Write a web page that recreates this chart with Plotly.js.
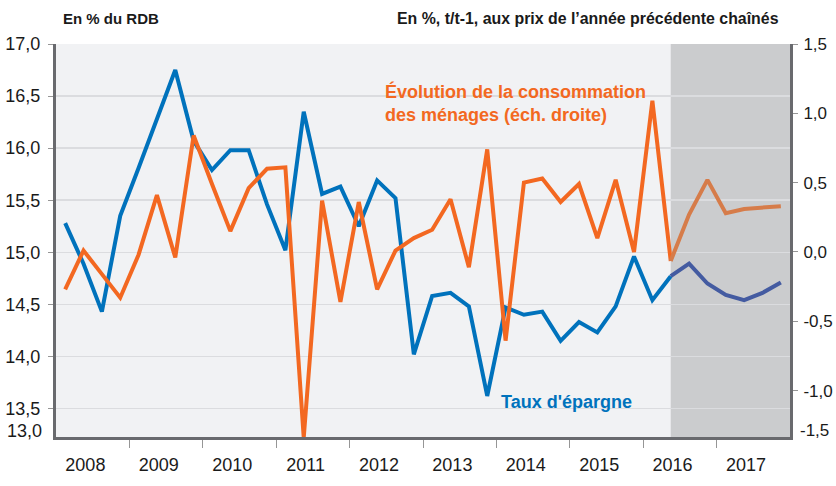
<!DOCTYPE html>
<html>
<head>
<meta charset="utf-8">
<script src="https://cdn.plot.ly/plotly-3.0.1.min.js"></script>
<style>html,body{margin:0;padding:0;background:#fff;}#chart{width:836px;height:486px;}</style>
</head>
<body>
<div id="chart"></div>
<script>
// ---- Data ----
const periods = [
  "2008T1","2008T2","2008T3","2008T4","2009T1","2009T2","2009T3","2009T4",
  "2010T1","2010T2","2010T3","2010T4","2011T1","2011T2","2011T3","2011T4",
  "2012T1","2012T2","2012T3","2012T4","2013T1","2013T2","2013T3","2013T4",
  "2014T1","2014T2","2014T3","2014T4","2015T1","2015T2","2015T3","2015T4",
  "2016T1","2016T2","2016T3","2016T4","2017T1","2017T2","2017T3","2017T4"
];
// Taux d'épargne (% du RDB), left axis
const tauxEpargne = [
  15.28, 14.89, 14.43, 15.35, 15.81, 16.29, 16.75, 16.07,
  15.79, 15.98, 15.98, 15.46, 15.02, 16.35, 15.56, 15.63,
  15.25, 15.69, 15.52, 14.02, 14.58, 14.61, 14.48, 13.62,
  14.47, 14.40, 14.43, 14.15, 14.33, 14.23, 14.48, 14.96,
  14.54, 14.77, 14.89, 14.70, 14.59, 14.54, 14.61, 14.71
];
// Évolution de la consommation des ménages (% t/t-1), right axis
const consommation = [
  -0.27, 0.01, -0.16, -0.33, -0.02, 0.41, -0.04, 0.84,
  0.49, 0.15, 0.46, 0.60, 0.61, -1.34, 0.37, -0.36,
  0.36, -0.27, 0.01, 0.10, 0.16, 0.38, -0.11, 0.74,
  -0.64, 0.50, 0.53, 0.36, 0.49, 0.10, 0.52, 0.00,
  1.09, -0.065, 0.27, 0.52, 0.28, 0.31, 0.32, 0.33
];
const lastObserved = "2016T2";   // forecast starts after this quarter
const yearLabels = ["2008","2009","2010","2011","2012","2013","2014","2015","2016","2017"];
const leftTicks = [13.5, 14.0, 14.5, 15.0, 15.5, 16.0, 16.5, 17.0];
const leftBottomLabel = "13,0";
const rightTicks = [-1.0, -0.5, 0.0, 0.5, 1.0, 1.5];
const rightBottomLabel = "-1,5";
const leftHeader = "En % du RDB";
const rightHeader = "En %, t/t-1, aux prix de l\u2019année précédente chaînés";
const consoLabel = "Évolution de la consommation<br>des ménages (éch. droite)";
const epargneLabel = "Taux d'épargne";

// ---- Build ----
const xq = periods.map(p => {
  const y = parseInt(p.slice(0, 4), 10), q = parseInt(p.slice(5), 10);
  return y + (q - 0.5) / 4;
});
const split = periods.indexOf(lastObserved);
const fmt = v => v.toFixed(1).replace('.', ',');

const BLUE = 'rgb(0,114,188)', BLUE_F = 'rgb(68,91,161)';
const ORANGE = 'rgb(243,104,33)', ORANGE_F = 'rgb(214,124,74)';
const FONT = 'Liberation Sans, Arial, sans-serif';

const traces = [
  {x: xq.slice(0, split + 1), y: tauxEpargne.slice(0, split + 1), mode: 'lines',
   line: {color: BLUE, width: 4}, yaxis: 'y', hoverinfo: 'skip'},
  {x: xq.slice(split), y: tauxEpargne.slice(split), mode: 'lines',
   line: {color: BLUE_F, width: 4}, yaxis: 'y', hoverinfo: 'skip'},
  {x: xq.slice(0, split + 1), y: consommation.slice(0, split + 1), mode: 'lines',
   line: {color: ORANGE, width: 4}, yaxis: 'y2', hoverinfo: 'skip'},
  {x: xq.slice(split), y: consommation.slice(split), mode: 'lines',
   line: {color: ORANGE_F, width: 4}, yaxis: 'y2', hoverinfo: 'skip'}
];

const firstYear = parseInt(yearLabels[0], 10);
const endYear = parseInt(yearLabels[yearLabels.length - 1], 10) + 1;
// labels sit slightly left of the middle of each year, as in the reference
const yearMid = yearLabels.map(y => parseInt(y, 10) + 0.4);
const yearBounds = yearLabels.slice(1).map(y => parseInt(y, 10));

const layout = {
  width: 836, height: 486,
  margin: {l: 56, r: 46, t: 44, b: 49, pad: 0},
  paper_bgcolor: '#ffffff',
  plot_bgcolor: 'rgb(241,242,244)',
  showlegend: false,
  font: {family: FONT, size: 18, color: '#1a1a1a'},
  xaxis: {
    range: [firstYear, endYear],
    tickmode: 'array', tickvals: yearMid, ticktext: yearLabels,
    ticks: 'outside', ticklen: 9, tickcolor: 'rgba(0,0,0,0)',
    showgrid: false, zeroline: false,
    showline: true, linecolor: 'rgb(105,106,110)', linewidth: 3,
    minor: {tickmode: 'array', tickvals: yearBounds, ticks: 'outside', ticklen: 8,
            tickcolor: 'rgb(150,150,150)', tickwidth: 1, showgrid: false},
    tickfont: {family: FONT, size: 18, color: '#1a1a1a'},
    fixedrange: true
  },
  yaxis: {
    range: [13.226, 17.0],
    tickmode: 'array', tickvals: leftTicks, ticktext: leftTicks.map(fmt),
    ticks: 'outside', ticklen: 5, tickcolor: 'rgb(150,150,150)', tickwidth: 1,
    showgrid: true, gridcolor: 'rgb(219,220,223)', gridwidth: 1.5,
    zeroline: false,
    showline: true, linecolor: 'rgb(105,106,110)', linewidth: 3,
    tickfont: {family: FONT, size: 18, color: '#1a1a1a'},
    ticklabelstandoff: 4,
    fixedrange: true
  },
  yaxis2: {
    overlaying: 'y', side: 'right',
    range: [-1.335, 1.5],
    tickmode: 'array', tickvals: rightTicks, ticktext: rightTicks.map(fmt),
    ticks: 'outside', ticklen: 5, tickcolor: 'rgb(150,150,150)', tickwidth: 1,
    showgrid: false, zeroline: false,
    showline: true, linecolor: 'rgb(105,106,110)', linewidth: 3,
    tickfont: {family: FONT, size: 17, color: '#1a1a1a'},
    ticklabelstandoff: 2,
    fixedrange: true
  },
  shapes: [
    {type: 'rect', xref: 'x', yref: 'paper', x0: xq[split], x1: endYear, y0: 0, y1: 1,
     fillcolor: 'rgb(203,204,206)', line: {width: 0}, layer: 'below'}
  ],
  annotations: [
    {xref: 'paper', yref: 'paper', x: -0.0163, y: 0.0153, xanchor: 'right', yanchor: 'middle',
     text: leftBottomLabel, showarrow: false, font: {family: FONT, size: 18, color: '#1a1a1a'}},
    {xref: 'paper', yref: 'paper', x: 1.0112, y: 0.0153, xanchor: 'left', yanchor: 'middle',
     text: rightBottomLabel, showarrow: false, font: {family: FONT, size: 17, color: '#1a1a1a'}},
    {xref: 'paper', yref: 'paper', x: 0.0068, y: 1.066, xanchor: 'left', yanchor: 'middle',
     text: '<b>' + leftHeader + '</b>', showarrow: false, font: {family: FONT, size: 15, color: '#1a1a1a'}},
    {xref: 'paper', yref: 'paper', x: 0.9877, y: 1.066, xanchor: 'right', yanchor: 'middle',
     text: '<b>' + rightHeader + '</b>', showarrow: false, font: {family: FONT, size: 15.9, color: '#1a1a1a'}},
    {xref: 'paper', yref: 'paper', x: 0.4455, y: 0.851, xanchor: 'left', yanchor: 'middle', align: 'left',
     text: '<b>' + consoLabel + '</b>', showarrow: false, font: {family: FONT, size: 18, color: ORANGE}},
    {xref: 'paper', yref: 'paper', x: 0.6035, y: 0.089, xanchor: 'left', yanchor: 'middle',
     text: '<b>' + epargneLabel + '</b>', showarrow: false, font: {family: FONT, size: 18, color: BLUE}}
  ]
};

Plotly.newPlot('chart', traces, layout, {displayModeBar: false, staticPlot: true});
</script>
</body>
</html>
